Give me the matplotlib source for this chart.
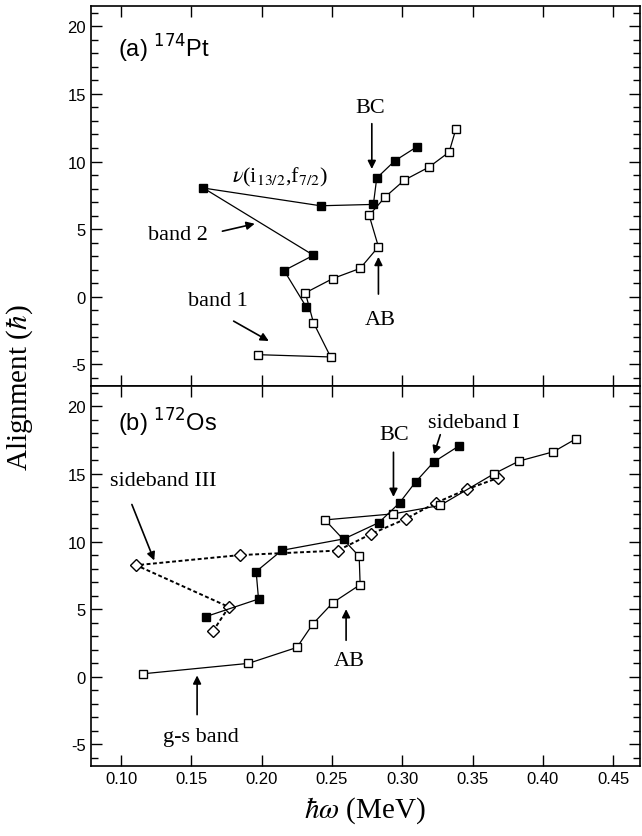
import matplotlib
matplotlib.use('Agg')
import matplotlib.pyplot as plt
from matplotlib.ticker import MultipleLocator

plt.rcParams['font.family'] = ['Liberation Sans', 'DejaVu Sans']
plt.rcParams['axes.unicode_minus'] = False

# ---- (a) 174Pt ----
pt_band1_x = [0.197, 0.249, 0.2368, 0.231, 0.2506, 0.270, 0.283, 0.2764, 0.288, 0.3015, 0.319, 0.3333, 0.338]
pt_band1_y = [-4.28, -4.45, -1.92, 0.29, 1.35, 2.1, 3.7, 6.02, 7.4, 8.63, 9.59, 10.7, 12.37]
pt_band2_x = [0.2316, 0.2159, 0.2368, 0.1585, 0.2418, 0.2794, 0.2818, 0.2946, 0.3105]
pt_band2_y = [-0.74, 1.94, 3.07, 8.04, 6.73, 6.83, 8.78, 10.05, 11.1]

# ---- (b) 172Os ----
os_gs_x = [0.1154, 0.1905, 0.225, 0.2363, 0.2506, 0.270, 0.2693, 0.245, 0.2937, 0.3269, 0.365, 0.383, 0.4075, 0.4236]
os_gs_y = [0.22, 0.99, 2.17, 3.9, 5.48, 6.81, 8.91, 11.6, 12.05, 12.67, 15.0, 15.95, 16.64, 17.6]
os_sb1_x = [0.160, 0.1977, 0.196, 0.2143, 0.2586, 0.2833, 0.298, 0.3094, 0.3222, 0.340]
os_sb1_y = [4.44, 5.75, 7.78, 9.35, 10.2, 11.4, 12.86, 14.4, 15.87, 17.05]
os_sb3_x = [0.1652, 0.1766, 0.1107, 0.1846, 0.2539, 0.278, 0.3025, 0.3238, 0.3463, 0.368]
os_sb3_y = [3.36, 5.16, 8.25, 9.0, 9.33, 10.57, 11.68, 12.86, 13.88, 14.7]

serif = ['Liberation Serif', 'DejaVu Serif']
xlim = (0.0785, 0.469)
ylim = (-6.6, 21.5)

fig = plt.figure(figsize=(6.42, 8.37), dpi=100)
ax1 = fig.add_axes([0.1417, 0.5376, 0.855, 0.454])
ax2 = fig.add_axes([0.1417, 0.0836, 0.855, 0.454])

for ax in (ax1, ax2):
    ax.set_xlim(*xlim)
    ax.set_ylim(*ylim)
    ax.xaxis.set_major_locator(MultipleLocator(0.05))
    ax.yaxis.set_major_locator(MultipleLocator(5))
    ax.yaxis.set_minor_locator(MultipleLocator(1))
    ax.tick_params(which='both', direction='in', top=True, right=True, width=1.0)
    ax.tick_params(which='major', length=8, labelsize=12)
    ax.tick_params(which='minor', length=5)
    for s in ax.spines.values():
        s.set_linewidth(1.2)

ax1.tick_params(labelbottom=False)
ax2.xaxis.set_major_formatter(plt.FuncFormatter(lambda v, p: f'{v:.2f}'))

sq_open = dict(marker='s', ms=6, mfc='white', mec='black', mew=1.0, color='black', lw=0.9)
sq_fill = dict(marker='s', ms=6, mfc='black', mec='black', color='black', lw=0.9)
dia = dict(marker='D', ms=6, mfc='white', mec='black', mew=1.0, color='black', lw=1.4,
           linestyle=(0, (2, 1.3)))

ax1.plot(pt_band1_x, pt_band1_y, **sq_open)
ax1.plot(pt_band2_x, pt_band2_y, **sq_fill)

ax2.plot(os_sb3_x, os_sb3_y, **dia)
ax2.plot(os_gs_x, os_gs_y, **sq_open)
ax2.plot(os_sb1_x, os_sb1_y, **sq_fill)

arr = dict(arrowstyle='-|>', color='black', lw=1.2, mutation_scale=12, shrinkA=0, shrinkB=0)
fs = 16

# panel (a) labels
ax1.text(0.05, 0.89, r'(a) $^{174}$Pt', transform=ax1.transAxes, fontsize=17,
         va='center', math_fontfamily='dejavusans')
ax1.text(0.2775, 14.0, 'BC', family=serif, fontsize=fs, ha='center', va='center')
ax1.annotate('', xy=(0.2783, 9.45), xytext=(0.2783, 12.8), arrowprops=arr)
ax1.text(0.213, 8.9, r'$\nu$(i$_{13/2}$,f$_{7/2}$)', family=serif, fontsize=fs,
         ha='center', va='center', math_fontfamily='stix')
ax1.text(0.162, 4.6, 'band 2', family=serif, fontsize=fs, ha='right', va='center')
ax1.annotate('', xy=(0.195, 5.4), xytext=(0.172, 4.85), arrowprops=arr)
ax1.text(0.19, -0.3, 'band 1', family=serif, fontsize=fs, ha='right', va='center')
ax1.annotate('', xy=(0.205, -3.27), xytext=(0.18, -1.8), arrowprops=arr)
ax1.text(0.284, -1.7, 'AB', family=serif, fontsize=fs, ha='center', va='center')
ax1.annotate('', xy=(0.283, 2.95), xytext=(0.283, 0.2), arrowprops=arr)

# panel (b) labels
ax2.text(0.05, 0.905, r'(b) $^{172}$Os', transform=ax2.transAxes, fontsize=17,
         va='center', math_fontfamily='dejavusans')
ax2.text(0.294, 17.9, 'BC', family=serif, fontsize=fs, ha='center', va='center')
ax2.annotate('', xy=(0.2937, 13.3), xytext=(0.2937, 16.6), arrowprops=arr)
ax2.text(0.318, 18.8, 'sideband I', family=serif, fontsize=fs, ha='left', va='center')
ax2.annotate('', xy=(0.3225, 16.45), xytext=(0.327, 17.9), arrowprops=arr)
ax2.text(0.092, 14.5, 'sideband III', family=serif, fontsize=fs, ha='left', va='center')
ax2.annotate('', xy=(0.1235, 8.6), xytext=(0.1076, 12.74), arrowprops=arr)
ax2.text(0.262, 1.2, 'AB', family=serif, fontsize=fs, ha='center', va='center')
ax2.annotate('', xy=(0.26, 5.0), xytext=(0.26, 2.7), arrowprops=arr)
ax2.text(0.157, -4.4, 'g-s band', family=serif, fontsize=fs, ha='center', va='center')
ax2.annotate('', xy=(0.154, 0.1), xytext=(0.154, -2.8), arrowprops=arr)

ax2.set_xlabel(r'$\hbar\omega$ (MeV)', family=serif, fontsize=21, math_fontfamily='stix',
               labelpad=6)
fig.text(0.03, 0.537, r'Alignment ($\hbar$)', family=serif, fontsize=21, rotation=90,
         ha='center', va='center', math_fontfamily='stix')

fig.savefig('out.png', dpi=100)
